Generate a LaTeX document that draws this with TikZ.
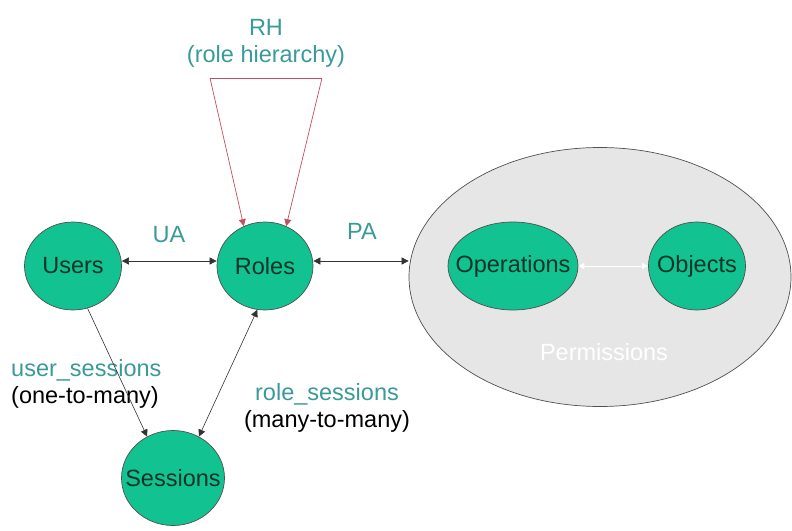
\documentclass[tikz,border=0pt]{standalone}
\usepackage{fontspec}
\setmainfont{Liberation Sans}
\usetikzlibrary{shapes.geometric,arrows.meta}
\definecolor{nodegreen}{RGB}{18,194,144}
\definecolor{nodetext}{RGB}{12,52,40}
\definecolor{labelteal}{RGB}{58,154,154}
\definecolor{rhred}{RGB}{190,80,95}
\definecolor{permgray}{RGB}{230,230,230}
\definecolor{edgegray}{RGB}{80,80,80}
\tikzset{
  ent/.style={ellipse,draw=edgegray,line width=0.7pt,fill=nodegreen,inner sep=0pt,label={[text=nodetext,inner sep=0pt]center:#1}},
  lab/.style={text=labelteal,inner sep=0pt,align=center},
  link/.style={line width=0.6pt,draw=black!80,{Triangle[length=7pt,width=7pt]}-{Triangle[length=7pt,width=7pt]}},
  onelink/.style={line width=0.6pt,draw=black!80,-{Triangle[length=7pt,width=7pt]}},
  rhlink/.style={line width=0.7pt,draw=rhred,-{Triangle[length=7pt,width=7pt]}},
}
\begin{document}
\begin{tikzpicture}[x=1pt,y=-1pt,font=\fontsize{23.5}{27}\selectfont]
\useasboundingbox (0,0) rectangle (792,530);
\node[ellipse,draw=edgegray,line width=0.7pt,fill=permgray,minimum width=382pt,minimum height=259pt] (perm) at (600,277) {};
\node[text=white,inner sep=0pt] (permlab) at (604,352) {Permissions};
\node[ent=Users,minimum width=97pt,minimum height=88pt] (users) at (73,266) {};
\node[ent=Roles,minimum width=96pt,minimum height=88pt] (roles) at (265,266) {};
\node[ent=Sessions,minimum width=103pt,minimum height=95pt] (sessions) at (173,478) {};
\node[ent=Operations,minimum width=130pt,minimum height=88pt] (ops) at (513,266) {};
\node[ent=Objects,minimum width=97pt,minimum height=88pt] (objs) at (697,266) {};
% labels
\node[lab] (rh) at (266,43) {RH\\(role hierarchy)};
\node[lab] (ua) at (169,235) {UA};
\node[lab] (pa) at (362,231) {PA};
\node[lab,align=left,anchor=west] (us) at (11,384) {user\_sessions\\\textcolor{black}{(one-to-many)}};
\node[lab] (rs) at (327,408) {role\_sessions\\\textcolor{black}{(many-to-many)}};
% connectors
\draw[link] ([yshift=5pt]users.east) -- ([yshift=5pt]roles.west);
\draw[link] ([yshift=5pt]roles.east) -- ([yshift=5pt]roles.east -| perm.west);
\draw[onelink] (users.289) -- (sessions.122);
\draw[link] (roles.260) -- (sessions.58);
\draw[line width=0.8pt,draw=white,{Triangle[length=6pt,width=6pt]}-{Triangle[length=6pt,width=6pt]},fill=white] (ops.east) -- (objs.west);
\coordinate (rhl) at (210,78);
\coordinate (rhr) at (322,78);
\draw[line width=0.7pt,draw=rhred] (rhl) -- (rhr);
\draw[rhlink] (rhl) -- (roles.118);
\draw[rhlink] (rhr) -- (roles.62);
\end{tikzpicture}
\end{document}
